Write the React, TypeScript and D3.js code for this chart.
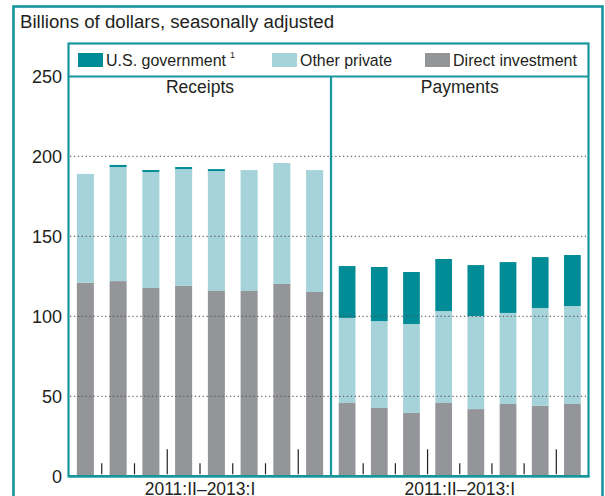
import React from "react";
import * as d3 from "d3";

const quarters = ["2011:II", "2011:III", "2011:IV", "2012:I", "2012:II", "2012:III", "2012:IV", "2013:I"];
const seriesKeys = ["direct", "other", "gov"];
const seriesLabels = ["U.S. government", "Other private", "Direct investment"];
const receiptsDirect = [121, 122, 117.7, 119, 115.8, 115.8, 120.2, 115.2];
const receiptsOther = [68, 71.3, 72.5, 73, 75, 75.6, 75.6, 76.2];
const receiptsGov = [0, 1.3, 1.2, 1.3, 1.2, 0, 0, 0];
const paymentsDirect = [45.8, 42.7, 39.6, 45.8, 42, 45.2, 44, 45.2];
const paymentsOther = [53.2, 54.3, 55.6, 57.5, 58.2, 56.9, 61.2, 61.2];
const paymentsGov = [32.4, 33.8, 32.5, 32.5, 31.8, 31.8, 31.8, 31.9];
const yTicks = [0, 50, 100, 150, 200, 250];
const gridTicks = [50, 100, 150, 200];
const panelTitles = ["Receipts", "Payments"];
const xLabel = "2011:II\u20132013:I";

const COLORS: Record<string, string> = { gov: "#008C96", other: "#A6D2D9", direct: "#939598" };
const FRAME = "#17959C";
const FONT = "'Liberation Sans', Arial, sans-serif";

function buildRows(direct: number[], other: number[], gov: number[]) {
  return quarters.map((q, i) => ({ q, direct: direct[i], other: other[i], gov: gov[i] }));
}

export default function App() {
  const W = 605, H = 496;
  const left = 69, mid = 331, right = 588.5;
  const top = 43.5, legendBottom = 76.5, axisY = 476.3;
  const y = d3.scaleLinear().domain([0, 250]).range([axisY, 76.3]);
  const panels = [
    { title: panelTitles[0], rows: buildRows(receiptsDirect, receiptsOther, receiptsGov), x0: left, x1: mid },
    { title: panelTitles[1], rows: buildRows(paymentsDirect, paymentsOther, paymentsGov), x0: mid, x1: right },
  ];
  const stack = d3.stack<any>().keys(seriesKeys);

  return (
    <svg width={W} height={H} style={{ display: "block", position: "absolute", left: 0, top: 0 }} fontFamily={FONT}>
      <rect x={0} y={0} width={W} height={H} fill="#fff" />
      {/* outer frame */}
      <rect x={13.5} y={6.5} width={589} height={540} fill="none" stroke={FRAME} strokeWidth={2.6} />
      <text x={20} y={28} fontSize={18} textLength={314} lengthAdjust="spacingAndGlyphs" fill="#231f20">Billions of dollars, seasonally adjusted</text>

      {/* y labels */}
      {yTicks.map((t) => (
        <text key={t} x={62} y={y(t)} dy="0.36em" textAnchor="end" fontSize={18} fill="#231f20">{t}</text>
      ))}

      {panels.map((p, pi) => {
        const xb = d3.scaleBand().domain(quarters).range([p.x0, p.x1]).paddingInner(0.48).paddingOuter(0.24);
        const series = stack(p.rows);
        const step = xb.step();
        const bw = xb.bandwidth();
        return (
          <g key={pi}>
            {series.map((s) => (
              <g key={s.key} fill={COLORS[s.key]}>
                {s.map((d, i) => (
                  d[1] - d[0] > 0 ? (
                    <rect key={i} x={xb(quarters[i])} y={y(d[1])} width={bw} height={y(d[0]) - y(d[1])} />
                  ) : null
                ))}
              </g>
            ))}
            {quarters.slice(0, -1).map((q, i) => {
              const tx = (xb(q) as number) + bw + (step - bw) / 2;
              const long = quarters[i + 1].endsWith(":I");
              return <line key={q} x1={tx} x2={tx} y1={axisY - 2} y2={axisY - (long ? 27 : 13)} stroke="#231f20" strokeWidth={1.2} />;
            })}
            <text x={(p.x0 + p.x1) / 2} y={93} textAnchor="middle" fontSize={17.5} fill="#231f20">{p.title}</text>
            <text x={(p.x0 + p.x1) / 2} y={495} textAnchor="middle" fontSize={17.5} fill="#231f20">{xLabel}</text>
          </g>
        );
      })}

      {/* gridlines */}
      {gridTicks.map((t) => (
        <line key={t} x1={left + 1} x2={right - 1} y1={y(t)} y2={y(t)} stroke="#555" strokeWidth={1.3} strokeDasharray="1.3,2.6" opacity={0.85} />
      ))}

      {/* inner frame */}
      <rect x={68.5} y={top} width={right - 68.5} height={axisY - top} fill="none" stroke={FRAME} strokeWidth={2.2} />
      <line x1={68.5} x2={right} y1={legendBottom} y2={legendBottom} stroke={FRAME} strokeWidth={2.2} />
      <line x1={mid} x2={mid} y1={legendBottom} y2={axisY} stroke={FRAME} strokeWidth={2.2} />
      <line x1={68.5} x2={right + 1} y1={axisY} y2={axisY} stroke={FRAME} strokeWidth={2.6} />

      {/* legend */}
      <rect x={78} y={53} width={25} height={14} fill={COLORS.gov} />
      <text x={106} y={66} fontSize={16} fill="#231f20">
        {seriesLabels[0]}
        <tspan dx={4} dy={-8} fontSize={9}>1</tspan>
      </text>
      {[
        { key: "other", label: seriesLabels[1], x: 272, tl: 92 },
        { key: "direct", label: seriesLabels[2], x: 425, tl: 124 },
      ].map((l) => (
        <g key={l.key}>
          <rect x={l.x} y={53} width={25} height={14} fill={COLORS[l.key]} />
          <text x={l.x + 28} y={66} fontSize={17} textLength={l.tl} lengthAdjust="spacingAndGlyphs" fill="#231f20">{l.label}</text>
        </g>
      ))}
    </svg>
  );
}
